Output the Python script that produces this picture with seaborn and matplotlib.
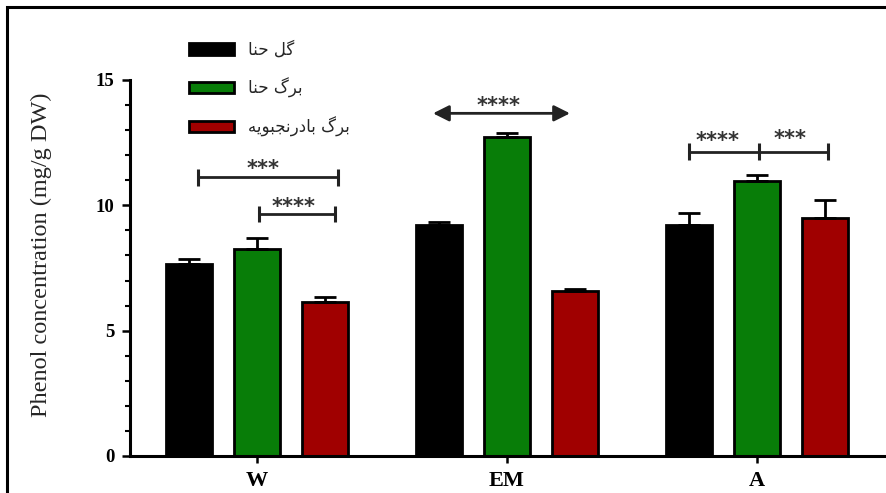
import numpy as np
import pandas as pd
import matplotlib
matplotlib.use("Agg")
import matplotlib.pyplot as plt
import seaborn as sns
from matplotlib.patches import Rectangle
from matplotlib.ticker import MultipleLocator

# ---------------- data ----------------
groups = ["W", "EM", "A"]
series = ["گل حنا", "برگ حنا", "برگ بادرنجبویه"]
flower_henna = [7.65, 9.21, 9.20]
leaf_henna = [8.26, 12.71, 10.97]
leaf_balm = [6.13, 6.58, 9.48]
flower_henna_err = [0.21, 0.11, 0.50]
leaf_henna_err = [0.45, 0.16, 0.24]
leaf_balm_err = [0.20, 0.07, 0.72]
y_ticks = [0, 5, 10, 15]
y_label = "Phenol concentration (mg/g DW)"

# significance annotations (layout)
brackets = [
    dict(xs=[-0.236, 0.324], y=11.12, labels=[("***", 0.024, 11.45)]),
    dict(xs=[0.008, 0.312], y=9.65, labels=[("****", 0.148, 9.92)]),
    dict(xs=[1.728, 2.008, 2.284], y=12.14,
         labels=[("****", 1.844, 12.55), ("***", 2.132, 12.65)]),
]
arrow_em = dict(xs=[0.704, 1.252], y=13.67, labels=[("****", 0.968, 13.98)])

colors = ["#000000", "#087d08", "#a00000"]

# --------- minimal Persian shaping (presentation forms, visual order) ---------
FORMS = {
    "ا": ("\uFE8D", "\uFE8E", None, None),
    "ب": ("\uFE8F", "\uFE90", "\uFE91", "\uFE92"),
    "ج": ("\uFE9D", "\uFE9E", "\uFE9F", "\uFEA0"),
    "ح": ("\uFEA1", "\uFEA2", "\uFEA3", "\uFEA4"),
    "د": ("\uFEA9", "\uFEAA", None, None),
    "ر": ("\uFEAD", "\uFEAE", None, None),
    "ل": ("\uFEDD", "\uFEDE", "\uFEDF", "\uFEE0"),
    "ن": ("\uFEE5", "\uFEE6", "\uFEE7", "\uFEE8"),
    "ه": ("\uFEE9", "\uFEEA", "\uFEEB", "\uFEEC"),
    "و": ("\uFEED", "\uFEEE", None, None),
    "ی": ("\uFBFC", "\uFBFD", "\uFBFE", "\uFBFF"),
    "گ": ("\uFB92", "\uFB93", "\uFB94", "\uFB95"),
}


def shape(text):
    out = []
    for i, ch in enumerate(text):
        if ch not in FORMS:
            out.append(ch)
            continue
        prev = text[i - 1] if i > 0 else None
        nxt = text[i + 1] if i + 1 < len(text) else None
        jp = prev in FORMS and FORMS[prev][2] is not None
        jn = nxt in FORMS and FORMS[ch][2] is not None
        iso, fin, ini, med = FORMS[ch]
        if jp and jn:
            out.append(med)
        elif jp:
            out.append(fin)
        elif jn:
            out.append(ini)
        else:
            out.append(iso)
    return "".join(out)[::-1]


# ---------------- table ----------------
values = [flower_henna, leaf_henna, leaf_balm]
errors = [flower_henna_err, leaf_henna_err, leaf_balm_err]
rows = []
for s, vals, errs in zip(series, values, errors):
    for g, v, e in zip(groups, vals, errs):
        rows.append(dict(group=g, series=s, value=v, err=e))
df = pd.DataFrame(rows)

# ---------------- plot ----------------
sns.set_style("ticks")
plt.rcParams["font.family"] = ["Liberation Serif", "DejaVu Serif"]

fig = plt.figure(figsize=(8.87, 4.93), dpi=100)
ax = fig.add_axes([130 / 887, 1 - 456 / 493, (885 - 130) / 887, (456 - 80) / 493])

sns.barplot(data=df, x="group", y="value", hue="series", order=groups,
            hue_order=series, palette=colors, saturation=1, width=0.816,
            gap=0.32, edgecolor="black", linewidth=2, errorbar=None, ax=ax)

# one-sided error bars
for cont, errs, vals in zip(ax.containers, errors, values):
    xs = [p.get_x() + p.get_width() / 2 for p in cont.patches]
    ax.errorbar(xs, vals, yerr=[np.zeros(len(errs)), errs], fmt="none",
                ecolor="black", elinewidth=2, capsize=8, capthick=2, zorder=1)

ax.set_xlim(-0.508, 2.512)
ax.set_ylim(0, 15)
ax.set_yticks(y_ticks)
ax.yaxis.set_minor_locator(MultipleLocator(1))
ax.set_xlabel("")
ax.set_ylabel(y_label, fontsize=17.5, family=["Liberation Serif"])
ax.yaxis.set_label_coords(-0.103, 0.535)

for sp in ["top", "right"]:
    ax.spines[sp].set_visible(False)
for sp in ["left", "bottom"]:
    ax.spines[sp].set_linewidth(2.2)
    ax.spines[sp].set_color("black")

ax.tick_params(axis="y", which="major", length=6, width=1.8, pad=5,
               labelsize=13.5, colors="black")
ax.tick_params(axis="y", which="minor", length=3.5, width=1.5, colors="black")
ax.tick_params(axis="x", which="major", length=5, width=1.8, pad=6,
               labelsize=16, colors="black")
for lab in ax.get_yticklabels() + ax.get_xticklabels():
    lab.set_fontweight("bold")

# significance brackets
ink = "#222222"
for b in brackets:
    ax.plot([b["xs"][0], b["xs"][-1]], [b["y"], b["y"]], color=ink, lw=2,
            solid_capstyle="butt", clip_on=False)
    for x in b["xs"]:
        ax.plot([x, x], [b["y"] - 0.33, b["y"] + 0.33], color=ink, lw=2.2,
                solid_capstyle="butt", clip_on=False)
    for t, tx, ty in b["labels"]:
        ax.text(tx, ty, t, ha="center", va="center", fontsize=15,
                fontweight="bold", color="#333333", family=["DejaVu Sans"])

ax.annotate("", xy=(arrow_em["xs"][1], arrow_em["y"]),
            xytext=(arrow_em["xs"][0], arrow_em["y"]),
            arrowprops=dict(arrowstyle="<|-|>", color=ink, lw=2,
                            mutation_scale=24, shrinkA=0, shrinkB=0),
            annotation_clip=False)
for t, tx, ty in arrow_em["labels"]:
    ax.text(tx, ty, t, ha="center", va="center", fontsize=15,
            fontweight="bold", color="#333333", family=["DejaVu Sans"])

# legend
handles, _ = ax.get_legend_handles_labels()
ax.legend(handles, [shape(s) for s in series], loc="upper left",
          bbox_to_anchor=(189 / 887, 1 - 41 / 493), bbox_transform=fig.transFigure,
          frameon=False, borderpad=0, borderaxespad=0, handlelength=2.7,
          handleheight=0.68, handletextpad=0.85, labelspacing=1.12,
          prop=dict(family="DejaVu Sans", size=12))

# outer frame of the picture
fig.add_artist(Rectangle((7 / 887, -0.2), 1.5, 1.2 - 7 / 493,
                         transform=fig.transFigure, fill=False,
                         edgecolor="black", lw=2.2, clip_on=False))

fig.savefig("out.png", dpi=100)
